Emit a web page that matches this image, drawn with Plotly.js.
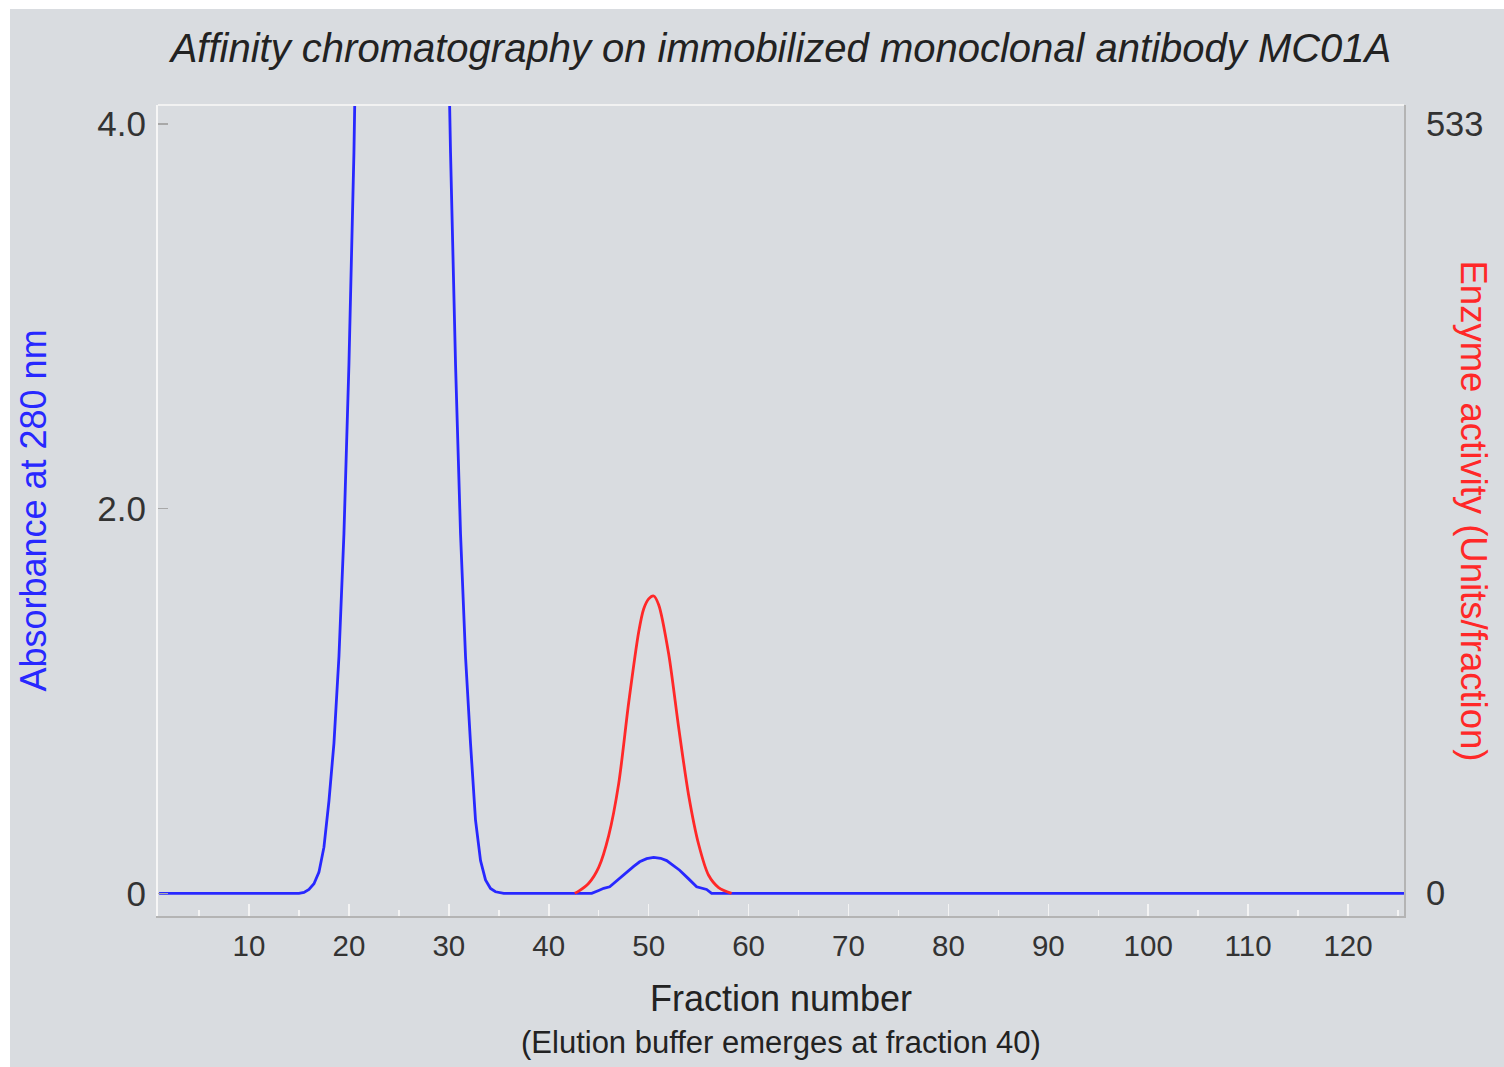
<!DOCTYPE html>
<html>
<head>
<meta charset="utf-8">
<script src="https://cdn.plot.ly/plotly-3.0.1.min.js"></script>
<style>
  html, body { margin: 0; padding: 0; background: #ffffff; }
  #chart { position: absolute; left: 10px; top: 9px; width: 1494px; height: 1058px; }
</style>
</head>
<body>
<div id="chart"></div>
<script>
// Absorbance at 280 nm (blue)
const fractionA280 = [1, 15, 15.5, 16, 16.5, 17, 17.5, 18, 18.5, 19, 19.5, 20, 20.5, 21, 22, 23, 25.33,
  27.67, 28.67, 29.67, 30.17, 30.67, 31.17, 31.67, 32.17, 32.67, 33.17, 33.67, 34.17, 34.67, 35.5,
  44.3, 45, 45.5, 46.1, 47, 47.8, 48.5, 49.1, 49.8, 50.5, 51.2, 51.8, 52.5, 53.1, 54, 54.8, 55.8, 56.3, 126];
const absorbance = [0, 0, 0.005, 0.02, 0.05, 0.11, 0.24, 0.48, 0.78, 1.23, 1.87, 2.75, 3.85, 5.2, 8.5, 12.5, 19,
  12.5, 8.5, 5.2, 3.85, 2.75, 1.87, 1.23, 0.78, 0.38, 0.17, 0.07, 0.025, 0.008, 0,
  0, 0.015, 0.026, 0.034, 0.075, 0.11, 0.14, 0.164, 0.18, 0.187, 0.182, 0.17, 0.145, 0.12, 0.075, 0.034, 0.02, 0, 0];

// Enzyme activity (Units/fraction, red)
const fractionEnzyme = [42.6, 43, 44, 45, 46, 47, 48, 49, 49.5, 50, 50.5, 51, 52, 53, 54, 55, 56, 57, 58.3];
const enzymeActivity = [0, 1.5, 7, 18, 40, 76, 132, 181, 197, 204, 206, 200, 166, 115, 68, 34, 12.5, 4, 0];

// Tick labels
const xTickVals = [10, 20, 30, 40, 50, 60, 70, 80, 90, 100, 110, 120];
const yTickVals = [0, 2, 4];
const yTickText = ['0', '2.0', '4.0'];
const y2TickVals = [0, 533];
const y2TickText = ['0', '533'];

const FONT = '"Liberation Sans", Arial, sans-serif';

const traces = [
  {
    x: fractionA280, y: absorbance, type: 'scatter', mode: 'lines',
    line: { color: 'rgb(40,40,255)', width: 2.8 },
    yaxis: 'y', hoverinfo: 'x+y', showlegend: false
  },
  {
    x: fractionEnzyme, y: enzymeActivity, type: 'scatter', mode: 'lines',
    line: { color: 'rgb(255,40,40)', width: 2.8, shape: 'spline', smoothing: 0.8 },
    yaxis: 'y2', hoverinfo: 'x+y', showlegend: false
  }
];

const layout = {
  width: 1494, height: 1058,
  margin: { l: 148, r: 100, t: 96, b: 151 },
  paper_bgcolor: '#d9dce0',
  plot_bgcolor: '#d9dce0',
  font: { family: FONT, color: '#333333' },
  title: {
    text: 'Affinity chromatography on immobilized monoclonal antibody MC01A',
    font: { family: FONT, size: 40, color: '#222222', style: 'italic' },
    x: 0.5, xref: 'paper', xanchor: 'center',
    y: 1 - 39 / 1058, yref: 'container', yanchor: 'middle'
  },
  xaxis: {
    range: [0.89, 125.6],
    tickvals: xTickVals,
    ticks: 'inside', ticklen: 12, tickwidth: 1.5, tickcolor: '#f4f4f4',
    minor: { tick0: 5, dtick: 10, ticks: 'inside', ticklen: 6, tickwidth: 1.5, tickcolor: '#f4f4f4' },
    showline: true, linecolor: '#b4b4b4', linewidth: 2,
    showgrid: false, zeroline: false,
    tickfont: { family: FONT, size: 29.5, color: '#333333' },
    ticklabelstandoff: 3,
    title: { text: 'Fraction number', font: { family: FONT, size: 36, color: '#222222' }, standoff: 24 }
  },
  yaxis: {
    range: [-0.118, 4.099],
    tickvals: yTickVals, ticktext: yTickText,
    ticks: 'inside', ticklen: 10, tickwidth: 1.5, tickcolor: '#a8a8a8',
    showline: true, linecolor: '#f6f6f6', linewidth: 2,
    showgrid: false, zeroline: false,
    tickfont: { family: FONT, size: 35, color: '#333333' },
    ticklabelstandoff: 3,
    title: { text: 'Absorbance at 280 nm', font: { family: FONT, size: 36, color: 'rgb(40,40,255)' }, standoff: 40 }
  },
  yaxis2: {
    overlaying: 'y', side: 'right',
    range: [-15.72, 546.2],
    tickvals: y2TickVals, ticktext: y2TickText,
    ticks: '', showline: true, linecolor: '#b4b4b4', linewidth: 2,
    showgrid: false, zeroline: false,
    tickfont: { family: FONT, size: 34.5, color: '#333333' },
    ticklabelstandoff: 13
  },
  shapes: [
    { type: 'line', xref: 'paper', yref: 'paper', x0: 0, x1: 1, y0: 1, y1: 1,
      line: { color: '#f2f2f2', width: 2 } }
  ],
  annotations: [
    { text: 'Enzyme activity (Units/fraction)', textangle: 90,
      xref: 'paper', yref: 'paper', x: (1473 - 158) / 1246, y: 0.5,
      xanchor: 'center', yanchor: 'middle', showarrow: false,
      font: { family: FONT, size: 36.5, color: 'rgb(255,40,40)' } },
    { text: '(Elution buffer emerges at fraction 40)',
      xref: 'paper', yref: 'paper', x: 0.5, y: -(1042 - 916) / 811,
      xanchor: 'center', yanchor: 'middle', showarrow: false,
      font: { family: FONT, size: 31, color: '#222222' } }
  ]
};

Plotly.newPlot('chart', traces, layout, { displayModeBar: false, staticPlot: true });
</script>
</body>
</html>
